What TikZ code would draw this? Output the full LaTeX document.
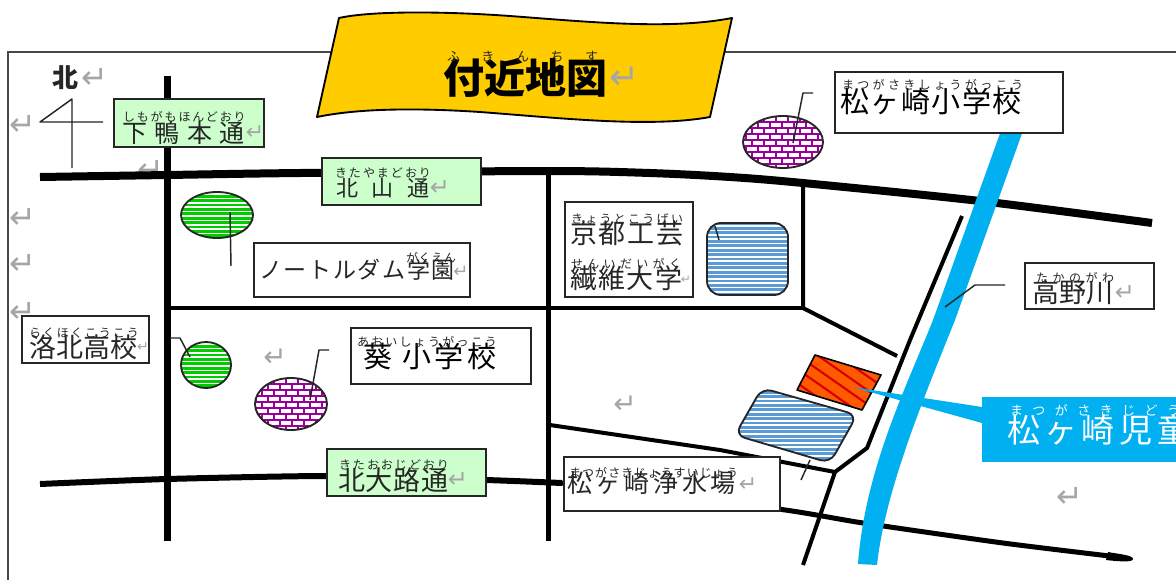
\documentclass[tikz,border=0pt]{standalone}
\usepackage{fontspec}
\newfontfamily\jp{Noto Sans CJK JP}
\newfontfamily\djv{DejaVu Sans}
\definecolor{gold}{HTML}{FFCC00}
\definecolor{mint}{HTML}{CCFFCC}
\definecolor{river}{HTML}{00B0F0}
\definecolor{parkgreen}{HTML}{00CC00}
\definecolor{brick}{HTML}{990099}
\definecolor{pondblue}{HTML}{5B9BD5}
\definecolor{site}{HTML}{FF5A00}
\definecolor{sitered}{HTML}{D80000}
\definecolor{ink}{HTML}{262626}
\definecolor{retgrey}{HTML}{A6A6A6}
\tikzset{
  roadline/.style={draw=black,line width=#1*0.75pt,line join=round},
  boxwhite/.style={draw=ink,fill=white,line width=1.5pt,rectangle},
  boxgreen/.style={draw=ink,fill=mint,line width=1.5pt,rectangle},
  leader/.style={draw=ink,line width=1.1pt,line join=round},
  outlined/.style={draw=ink,line width=1.4pt},
  gap/.style={draw=white,line width=1.2pt},
  txt/.style={inner sep=0pt,outer sep=0pt,anchor=west}
}
% name, x1, x2, y, size px, number of characters, colour, text
\newcommand\lbl[8]{%
  \pgfmathsetmacro\lsval{((#3-#2-#5)/(#6-1)-#5)/#5*100}%
  \pgfmathsetmacro\fsval{#5*0.75}%
  \node[txt,text=#7] (#1) at (#2,#4) {\fontsize{\fsval pt}{\fsval pt}\selectfont\jp\addfontfeature{LetterSpace=\lsval}#8};%
}
% name, x, y, size
\newcommand\retm[4]{%
  \pgfmathsetmacro\fsval{#4*0.75}%
  \node[inner sep=0pt,text=retgrey] (#1) at (#2,#3) {\fontsize{\fsval pt}{\fsval pt}\selectfont\djv ↵};%
}
% x1 x2 y1 y2 step style
\newcommand\hlines[6]{%
  \pgfmathsetmacro\ynext{#3+#5}%
  \foreach \yy in {#3,\ynext,...,#4}{\draw[#6] (#1,\yy)--(#2,\yy);}%
}
% x0 y0 columns rows : brick pattern
\newcommand\bricks[4]{%
  \foreach \ii in {0,...,#4}{%
    \pgfmathsetmacro\rowy{#2+6*\ii}%
    \pgfmathsetmacro\rowz{\rowy+6}%
    \draw[brick,line width=1.2pt] (#1,\rowy)--++(#3*12,0);
    \foreach \kk in {0,...,#3}{%
      \pgfmathsetmacro\colx{#1+12*\kk+6*mod(\ii,2)}%
      \draw[brick,line width=1.2pt] (\colx,\rowy)--(\colx,\rowz);
    }%
  }%
}
\begin{document}
\begin{tikzpicture}[x=0.75pt,y=-0.75pt]
\useasboundingbox (0,0) rectangle (1176,579);
\clip (0,0) rectangle (1176,579);
\fill[white] (0,0) rectangle (1176,579);

% frame
\draw[draw=ink!85,line width=1.5pt] (8,52) rectangle (1200,620);

% stray return marks (under roads)
\retm{r1}{23}{125}{32}
\retm{r2}{151}{170}{32}
\retm{r3}{23}{218}{32}
\retm{r4}{23}{264}{32}
\retm{r5}{23}{312}{32}
\retm{r6}{275}{358}{28}
\retm{r7}{625}{405}{28}
\retm{r8}{1070}{497}{32}

% roads
\draw[roadline=8] plot[smooth,tension=0.5] coordinates {(40,177) (167,175) (300,173) (548,171) (650,173) (730,177) (803,183) (980,201) (1152,223)};
\draw[roadline=7] (167,76) -- (167,541);
\draw[roadline=5] (548,171) -- (548,541);
\draw[roadline=4] (167,308) -- (803,308);
\draw[roadline=4] (803,183) -- (803,308) -- (897,356);
\draw[roadline=4] (962,216) -- (910,340) -- (867,448) -- (835,472);
\draw[roadline=4] (835,472) -- (803,565);
\draw[roadline=4] (550,425) -- (720,450) -- (835,472);
\draw[roadline=6] plot[smooth,tension=0.4] coordinates {(40,484) (167,479) (330,476) (486,480) (562,483)};
\draw[roadline=5] plot[smooth,tension=0.4] coordinates {(562,483) (778,509) (863,523) (1003,543) (1118,557)};
\fill[black] (1108,552) .. controls (1118,554) and (1133,555) .. (1133,559) .. controls (1133,563) and (1115,561) .. (1106,560) -- cycle;

% north sign
\node[txt,text=ink] (northlabel) at (52,78) {\fontsize{19.5pt}{19.5pt}\selectfont\jp\bfseries 北};
\retm{rnorth}{95}{78}{32}
\draw[leader] (72,168) -- (72,99) -- (40,122) -- (103,122);

% river
\fill[river] (1003,125) -- (933,320) .. controls (905,390) and (865,470) .. (858,564) -- (877,565) .. controls (885,490) and (925,395) .. (955,320) -- (1025,125) -- cycle;

% title ribbon
\draw[fill=gold,draw=black,line width=1.4pt,line join=round] (339,18) .. controls (370,11) and (440,11) .. (510,16) .. controls (590,22) and (670,30) .. (732,18) -- (710,117) .. controls (650,128) and (560,118) .. (480,112) .. controls (420,108) and (360,108) .. (317,117) -- cycle;
\lbl{titletext}{443}{608}{78}{41}{4}{black}{\bfseries 付近地図}
\lbl{titleruby}{447}{598}{57}{13}{5}{ink}{ふきんちす}
\retm{rtitle}{625}{78}{36}

% green parks
\begin{scope}
\clip (217,215) ellipse [x radius=36,y radius=23];
\fill[parkgreen] (180,190) rectangle (255,240);
\hlines{180}{255}{194}{240}{4.4}{gap}
\end{scope}
\draw[outlined] (217,215) ellipse [x radius=36,y radius=23];
\begin{scope}
\clip (206,365) ellipse [x radius=25,y radius=23];
\fill[parkgreen] (180,340) rectangle (232,390);
\hlines{180}{232}{344}{390}{4.4}{gap}
\end{scope}
\draw[outlined] (206,365) ellipse [x radius=25,y radius=23];
\draw[leader] (230,212) -- (231,266);
\draw[leader] (170,338) -- (180,338) -- (190,357);

% purple school sites
\begin{scope}
\clip (783,142) ellipse [x radius=40,y radius=26];
\fill[white] (740,115) rectangle (825,170);
\bricks{740}{116}{8}{9}
\end{scope}
\draw[outlined] (783,142) ellipse [x radius=40,y radius=26];
\begin{scope}
\clip (291,404) ellipse [x radius=36,y radius=26];
\fill[white] (250,375) rectangle (330,432);
\bricks{250}{378}{7}{9}
\end{scope}
\draw[outlined] (291,404) ellipse [x radius=36,y radius=26];
\draw[leader] (813,93) -- (803,93) -- (793,143);
\draw[leader] (329,350) -- (319,350) -- (310,400);

% upper pond
\begin{scope}
\clip[rounded corners=14*0.75pt] (707,223) rectangle (788,295);
\fill[pondblue] (707,223) rectangle (788,295);
\hlines{705}{790}{226}{295}{4.4}{gap}
\end{scope}
\draw[outlined,rounded corners=14*0.75pt] (707,223) rectangle (788,295);
\draw[leader] (715,226) -- (719,240);

% lower pond
\begin{scope}
\clip[rounded corners=10*0.75pt] (762,388) -- (857,415) -- (830,463) -- (735,435) -- cycle;
\fill[pondblue] (730,385) rectangle (860,465);
\hlines{730}{860}{390}{465}{4.4}{gap}
\end{scope}
\draw[outlined,rounded corners=10*0.75pt] (762,388) -- (857,415) -- (830,463) -- (735,435) -- cycle;
\draw[leader] (810,460) -- (801,480);

% orange site
\begin{scope}
\clip (815,355) -- (881,375) -- (862,410) -- (797,390) -- cycle;
\fill[site] (790,350) rectangle (885,415);
\foreach \dd in {-70,-56,...,56}{\draw[sitered,line width=1.6pt] (790,350+\dd) -- (890,350+\dd+70);}
\end{scope}
\draw[draw=black,line width=1.2pt,line join=round] (815,355) -- (881,375) -- (862,410) -- (797,390) -- cycle;

% callout
\fill[river] (852,387) -- (982,407) -- (982,423) -- cycle;
\node[fill=river,inner sep=0pt,minimum width=240*0.75pt,minimum height=65*0.75pt,anchor=north west] (callout) at (982,397) {};
\lbl{callouttext}{1007}{1190}{430}{33}{5}{white}{松ヶ崎児童}
\lbl{calloutruby}{1010}{1180}{410}{13}{8}{white}{まつがさきじどう}

% leader to river label
\draw[leader] (1005,285) -- (975,285) -- (945,307);

% boxes
\node[boxgreen,minimum width=150*0.75pt,minimum height=48*0.75pt,anchor=north west,inner sep=0pt] (shimo) at (113,98) {};
\lbl{shimot}{122}{245}{133}{25}{4}{ink}{下鴨本通}
\lbl{shimor}{123}{246}{117}{12}{9}{ink}{しもがもほんどおり}
\retm{rshimo}{255}{133}{22}

\node[boxgreen,minimum width=159*0.75pt,minimum height=47*0.75pt,anchor=north west,inner sep=0pt] (kita) at (321,157) {};
\lbl{kitat}{336}{430}{188}{22}{3}{ink}{北山通}
\lbl{kitar}{335}{431}{173}{12}{7}{ink}{きたやまどおり}
\retm{rkita}{440}{188}{24}

\node[boxgreen,minimum width=159*0.75pt,minimum height=47*0.75pt,anchor=north west,inner sep=0pt] (oji) at (326,448) {};
\lbl{ojit}{338}{448}{480}{27}{4}{ink}{北大路通}
\lbl{ojir}{339}{449}{465}{12}{8}{ink}{きたおおじどおり}
\retm{roji}{458}{480}{24}

\node[boxwhite,minimum width=127*0.75pt,minimum height=47*0.75pt,anchor=north west,inner sep=0pt] (raku) at (21,315) {};
\lbl{rakut}{29}{138}{347}{27}{4}{ink}{洛北高校}
\lbl{rakur}{29}{139}{333}{12}{8}{ink}{らくほくこうこう}
\retm{rraku}{143}{347}{14}

\node[boxwhite,minimum width=216*0.75pt,minimum height=54*0.75pt,anchor=north west,inner sep=0pt] (notre) at (253,242) {};
\lbl{notret}{259}{455}{270}{23}{8}{ink}{ノートルダム学園}
\lbl{notrer}{406}{456}{258}{12}{4}{ink}{がくえん}
\retm{rnotre}{461}{272}{18}

\node[boxwhite,minimum width=128*0.75pt,minimum height=95*0.75pt,anchor=north west,inner sep=0pt] (kyoto) at (564,201) {};
\lbl{kyotot}{570}{683}{233}{27}{4}{ink}{京都工芸}
\lbl{kyotor}{571}{683}{219}{12}{8}{ink}{きょうとこうげい}
\lbl{senit}{570}{682}{278}{27}{4}{ink}{繊維大学}
\lbl{senir}{571}{681}{264}{12}{7}{ink}{せんいだいがく}
\retm{rseni}{686}{280}{12}

\node[boxwhite,minimum width=180*0.75pt,minimum height=56*0.75pt,anchor=north west,inner sep=0pt] (aoi) at (350,327) {};
\node[txt,text=black] (aoia) at (363,356) {\fontsize{21.75pt}{21.75pt}\selectfont\jp 葵};
\lbl{aoit}{402}{497}{356}{29}{3}{black}{小学校}
\lbl{aoir}{357}{497}{342}{12}{10}{ink}{あおいしょうがっこう}

\node[boxwhite,minimum width=216*0.75pt,minimum height=54*0.75pt,anchor=north west,inner sep=0pt] (josui) at (563,456) {};
\lbl{josuit}{567}{736}{483}{25}{6}{ink}{松ヶ崎浄水場}
\lbl{josuir}{569}{738}{473}{12}{13}{ink}{まつがさきじょうすいじょう}
\retm{rjosui}{748}{485}{22}

\node[boxwhite,minimum width=228*0.75pt,minimum height=61*0.75pt,anchor=north west,inner sep=0pt] (matsu) at (834,71) {};
\lbl{matsut}{840}{1022}{101}{29}{6}{black}{松ヶ崎小学校}
\lbl{matsur}{842}{1023}{85}{12}{12}{ink}{まつがさきしょうがっこう}

\node[boxwhite,minimum width=129*0.75pt,minimum height=46*0.75pt,anchor=north west,inner sep=0pt] (takano) at (1024,262) {};
\lbl{takanot}{1032}{1113}{292}{27}{3}{ink}{高野川}
\lbl{takanor}{1036}{1114}{278}{12}{5}{ink}{たかのがわ}
\retm{rtakano}{1125}{293}{24}
\end{tikzpicture}
\end{document}
